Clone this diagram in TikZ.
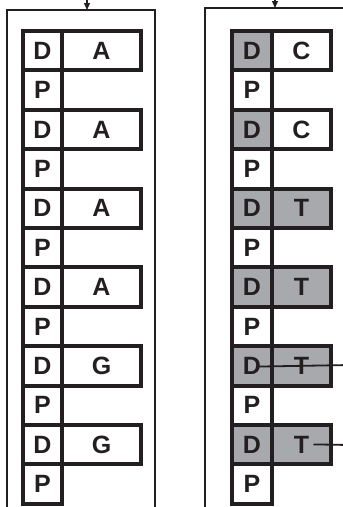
\documentclass[tikz,border=0pt]{standalone}
\usepackage{fontspec}
\setmainfont{Liberation Sans}
\usetikzlibrary{arrows.meta}
\definecolor{ink}{HTML}{231F20}
\definecolor{shade}{HTML}{A7A9AC}
\newcommand\cellfont{\fontsize{25pt}{27pt}\selectfont\bfseries}
\begin{document}
\begin{tikzpicture}[x=1pt,y=-1pt,
  cell/.style={rectangle,draw=ink,line width=4,inner sep=0pt,minimum height=39.4,
    font=\cellfont,text=ink},
  lcol/.style={cell,minimum width=39},
  lgene/.style={cell,minimum width=79},
  rcol/.style={cell,minimum width=40},
  rgene/.style={cell,minimum width=59},
  gray/.style={fill=shade},
  frame/.style={draw=ink,line width=1.6},
  link/.style={draw=ink,line width=1.8},
  tip/.style={-{Triangle[length=7,width=6]},draw=ink,line width=1.2}]
\useasboundingbox (0,0) rectangle (343,507);
% outer frames
\draw[frame] (7,512) -- (7,10) -- (155,10) -- (155,512);
\draw[frame] (205,512) -- (205,8) -- (350,8);
% incoming arrows
\coordinate (la0) at (87,-8);
\coordinate (la1) at (87,10);
\coordinate (ra0) at (275,-8);
\coordinate (ra1) at (275,8);
\draw[tip] (la0) -- (la1);
\draw[tip] (ra0) -- (ra1);
% left strand
\foreach \k/\g in {0/A,2/A,4/A,6/A,8/G,10/G}{
  \pgfmathsetmacro{\yd}{50.7+39.4*\k}
  \pgfmathsetmacro{\yp}{50.7+39.4*(\k+1)}
  \node[lgene] (lg\k) at (101.5,\yd) {\g};
  \node[lcol] (ld\k) at (42.5,\yd) {D};
  \node[lcol] (lp\k) at (42.5,\yp) {P};
}
% right strand
\foreach \k/\g/\f in {0/C/white,2/C/white,4/T/shade,6/T/shade,8/T/shade,10/T/shade}{
  \pgfmathsetmacro{\yd}{50.7+39.4*\k}
  \pgfmathsetmacro{\yp}{50.7+39.4*(\k+1)}
  \node[rgene,fill=\f] (rg\k) at (301.5,\yd) {\g};
  \node[rcol,gray] (rd\k) at (252,\yd) {D};
  \node[rcol,fill=white] (rp\k) at (252,\yp) {P};
}
% outgoing links
\coordinate (out8) at (350,365);
\coordinate (out10) at (350,445);
\draw[link] ([xshift=4pt,yshift=-0.7pt]rd8.center) -- (out8);
\draw[link] ([xshift=12pt,yshift=0.3pt]rg10.center) -- (out10);
\end{tikzpicture}
\end{document}
